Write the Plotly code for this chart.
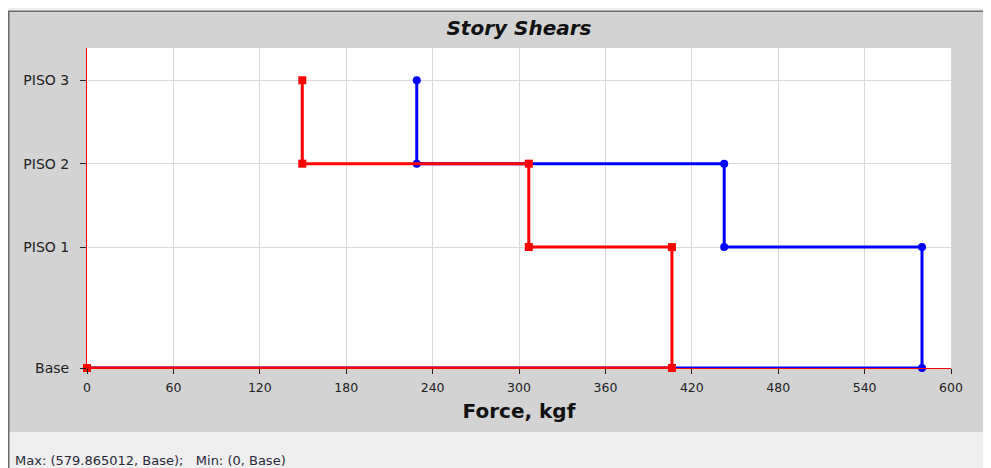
import plotly.graph_objects as go

# ---------------- data ----------------
stories = ["Base", "PISO 1", "PISO 2", "PISO 3"]
elevations = [0.0, 4.35, 7.35, 10.35]          # m
shear_x = [579.865012, 442.5, 229.0]           # kgf, PISO 1..PISO 3 (blue)
shear_y = [406.2, 306.8, 149.5]                # kgf, PISO 1..PISO 3 (red)
x_ticks = [0, 60, 120, 180, 240, 300, 360, 420, 480, 540, 600]
footer = "Max: (579.865012, Base);   Min: (0, Base)"


def step_path(shears, elev):
    """story-shear stair path from the top story down to the base"""
    xs, ys = [], []
    n = len(shears)
    for i in range(n - 1, -1, -1):
        xs += [shears[i], shears[i]]
        ys += [elev[i + 1], elev[i]]
    xs.append(0)
    ys.append(elev[0])
    return xs, ys


# page body has an 8px margin, so figure pixel = screen pixel - 8
W, H = 983, 460
L, R, T, B = 79, 40, 40, 100
PW, PH = W - L - R, H - T - B


def px(x):
    return (x - L) / PW


def py(y):
    return (H - B - y) / PH


fig = go.Figure()

bx, by = step_path(shear_x, elevations)
rx, ry = step_path(shear_y, elevations)

fig.add_trace(go.Scatter(x=bx, y=by, mode="lines+markers",
                         line=dict(color="#0000ff", width=3),
                         marker=dict(color="#0000ff", size=8, symbol="circle"),
                         showlegend=False, cliponaxis=False, hoverinfo="x+y"))
fig.add_trace(go.Scatter(x=rx, y=ry, mode="lines+markers",
                         line=dict(color="#ff0000", width=3),
                         marker=dict(color="#ff0000", size=8, symbol="square"),
                         showlegend=False, cliponaxis=False, hoverinfo="x+y"))

font_family = "DejaVu Sans, Verdana, sans-serif"

shapes = [
    # light strips around the grey panel
    dict(type="rect", xref="paper", yref="paper", x0=px(0), x1=px(W), y0=py(3), y1=py(0),
         fillcolor="#f0f0f0", line_width=0, layer="below"),
    dict(type="rect", xref="paper", yref="paper", x0=px(0), x1=px(W), y0=py(H), y1=py(424),
         fillcolor="#efefef", line_width=0, layer="below"),
    # dark borders
    dict(type="line", xref="paper", yref="paper", x0=px(0.75), x1=px(0.75), y0=py(H), y1=py(3),
         line=dict(color="#6a6a6a", width=1.5), layer="below"),
    dict(type="line", xref="paper", yref="paper", x0=px(0), x1=px(W), y0=py(3.25), y1=py(3.25),
         line=dict(color="#6a6a6a", width=1.5), layer="below"),
]

fig.update_layout(
    width=W, height=H,
    margin=dict(l=L, r=R, t=T, b=B),
    paper_bgcolor="#d3d3d3",
    plot_bgcolor="#ffffff",
    font=dict(family=font_family, size=13, color="#222222"),
    title=dict(text="Story Shears", x=0.5, xref="paper", xanchor="center",
               y=1 - 20 / H, yanchor="middle",
               font=dict(family=font_family, size=20, color="#111111",
                         weight="bold", style="italic")),
    shapes=shapes,
    showlegend=False,
    xaxis=dict(range=[0, 600], tickvals=x_ticks, ticktext=[str(v) for v in x_ticks],
               showgrid=True, gridcolor="#d9d9d9", gridwidth=1, zeroline=False,
               showline=True, linecolor="#ff0000", linewidth=1,
               ticks="outside", ticklen=5, tickcolor="#222222", tickwidth=1,
               ticklabelstandoff=3,
               tickfont=dict(size=12.5, color="#222222"),
               title=dict(text="Force, kgf", standoff=9,
                          font=dict(size=20, color="#111111", weight="bold"))),
    yaxis=dict(range=[0, 11.51], tickvals=elevations, ticktext=stories,
               showgrid=True, gridcolor="#d9d9d9", gridwidth=1, zeroline=False,
               showline=True, linecolor="#ff0000", linewidth=1,
               ticks="outside", ticklen=6, tickcolor="#222222", tickwidth=1,
               ticklabelstandoff=8,
               tickfont=dict(size=14, color="#222222")),
    annotations=[
        dict(text=footer, xref="paper", yref="paper",
             x=px(5), y=py(452), xanchor="left", yanchor="middle", showarrow=False,
             font=dict(family=font_family, size=13, color="#2a2a3a")),
    ],
)

fig.write_html("out.html")
